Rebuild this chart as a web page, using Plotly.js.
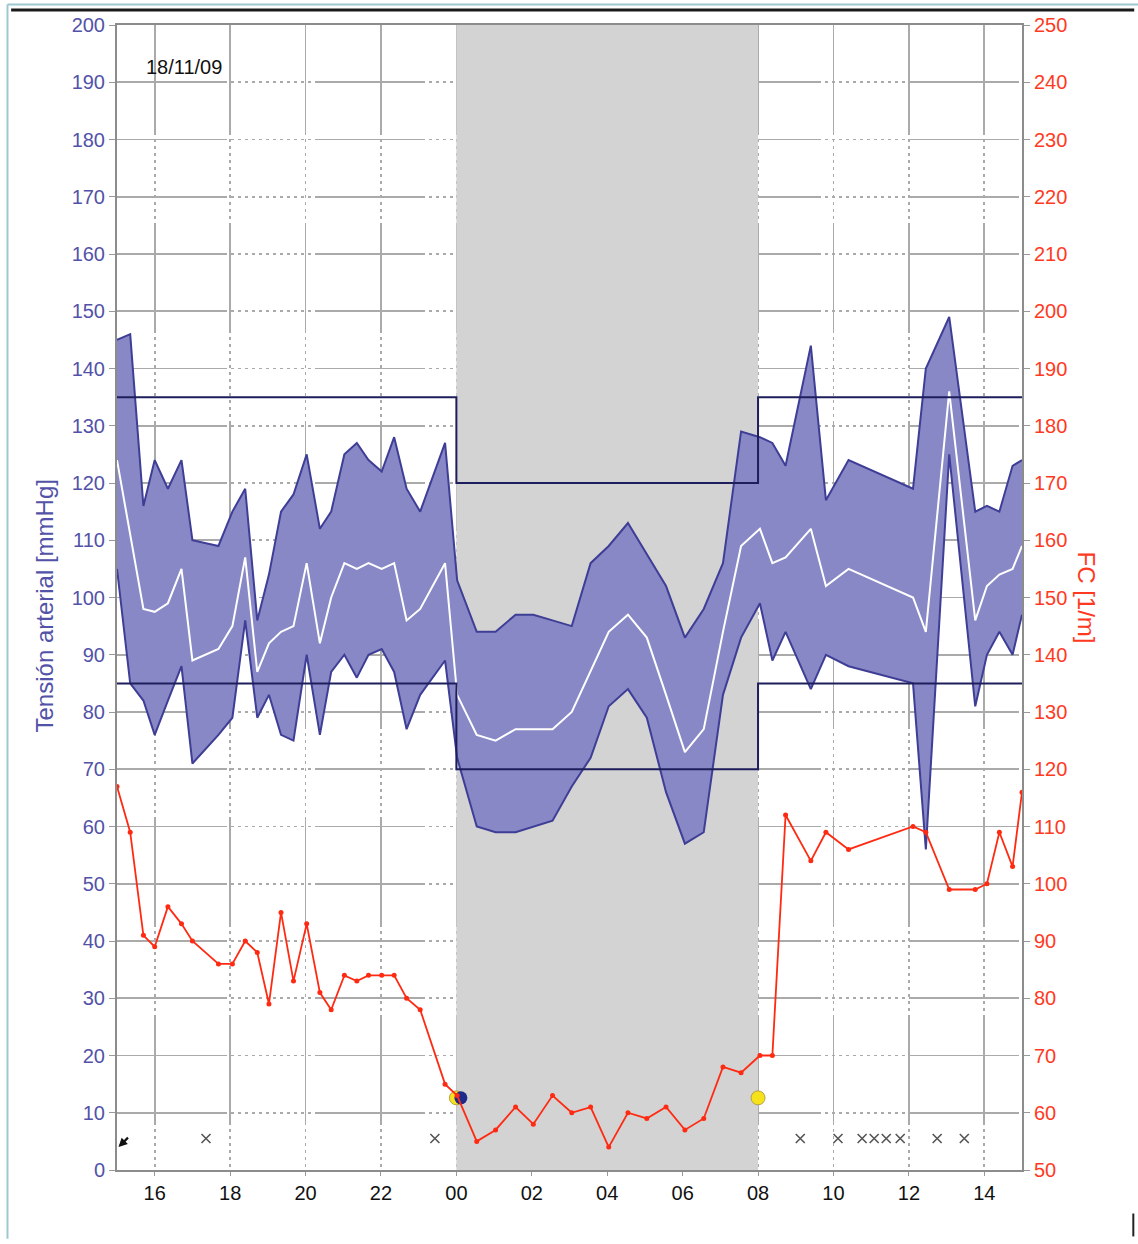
<!DOCTYPE html>
<html>
<head>
<meta charset="utf-8">
<script src="https://cdn.plot.ly/plotly-3.0.1.min.js"></script>
<style>
  body { margin: 0; background: #fff; }
  #myDiv { width: 1138px; height: 1244px; }
</style>
</head>
<body>
<div id="myDiv"></div>
<script>
// measurement times, hours from 15:00 of day 1 (24 = midnight, 39 = 15:00 next day)
var times = [15.0, 15.35, 15.70, 16.0, 16.35, 16.71, 17.0, 17.69, 18.06, 18.40,
  18.72, 19.03, 19.35, 19.68, 20.03, 20.38, 20.68, 21.03, 21.36, 21.67,
  22.02, 22.35, 22.68, 23.04, 23.70, 24.02, 24.54, 25.04, 25.57, 26.04,
  26.55, 27.06, 27.56, 28.04, 28.55, 29.05, 29.56, 30.06, 30.56, 31.07,
  31.55, 32.05, 32.38, 32.73, 33.40, 33.80, 34.40, 36.11, 36.45, 37.07,
  37.76, 38.07, 38.40, 38.75, 39.0];

var systolic = [145, 146, 116, 124, 119, 124, 110, 109, 115, 119,
  96, 104, 115, 118, 125, 112, 115, 125, 127, 124,
  122, 128, 119, 115, 127, 103, 94, 94, 97, 97,
  96, 95, 106, 109, 113, 107.5, 102, 93, 98, 106,
  129, 128, 127, 123, 144, 117, 124, 119, 140, 149,
  115, 116, 115, 123, 124];

var meanBP = [124, 111, 98, 97.5, 99, 105, 89, 91, 95, 107,
  87, 92, 94, 95, 106, 92, 100, 106, 105, 106,
  105, 106, 96, 98, 106, 83, 76, 75, 77, 77,
  77, 80, 87, 94, 97, 93, 83, 73, 77, 94,
  109, 112, 106, 107, 112, 102, 105, 100, 94, 136,
  96, 102, 104, 105, 109];

var diastolic = [105, 85, 82, 76, 82, 88, 71, 76, 79, 96,
  79, 83, 76, 75, 90, 76, 87, 90, 86, 90,
  91, 87, 77, 83, 89, 72, 60, 59, 59, 60,
  61, 67, 72, 81, 84, 79, 66, 57, 59, 83,
  93, 99, 89, 94, 84, 90, 88, 85, 56, 125,
  81, 90, 94, 90, 97];

var heartRate = [117, 109, 91, 89, 96, 93, 90, 86, 86, 90,
  88, 79, 95, 83, 93, 81, 78, 84, 83, 84,
  84, 84, 80, 78, 65, 63, 55, 57, 61, 58,
  63, 60, 61, 54, 60, 59, 61, 57, 59, 68,
  67, 70, 70, 112, 104, 109, 106, 110, 109, 99,
  99, 100, 109, 103, 116];

// night period (00 to 08)
var nightStart = 24;
var nightEnd = 32;

// day / night limits
var limitTimes = [15, 24, 32, 39];
var upperLimit = [135, 120, 135, 135];
var lowerLimit = [85, 70, 85, 85];

// event marks along the bottom
var eventTimes = [17.36, 23.43, 33.12, 34.12, 34.76, 35.08, 35.40, 35.77, 36.75, 37.47];
var eventLevel = [5.5, 5.5, 5.5, 5.5, 5.5, 5.5, 5.5, 5.5, 5.5, 5.5];

// night start / end buttons
var nightMarkTimes = [24, 32];
var nightMarkLevel = [12.6, 12.6];

var tickVals = [16, 18, 20, 22, 24, 26, 28, 30, 32, 34, 36, 38];
var tickText = ['16', '18', '20', '22', '00', '02', '04', '06', '08', '10', '12', '14'];

var bandLine = '#3e3e96';
var bandFill = 'rgb(136,136,198)';

var data = [
  {x: [nightStart, nightStart, nightEnd, nightEnd], y: [0, 200, 200, 0],
    type: 'scatter', mode: 'lines', fill: 'toself', fillcolor: '#d3d3d3',
    line: {width: 0, color: '#d3d3d3'}, hoverinfo: 'skip'},
  {x: times, y: diastolic, type: 'scatter', mode: 'lines',
    line: {color: bandLine, width: 2}, hoverinfo: 'skip'},
  {x: times, y: systolic, type: 'scatter', mode: 'lines', fill: 'tonexty',
    fillcolor: bandFill, line: {color: bandLine, width: 2}, hoverinfo: 'skip'},
  {x: times, y: meanBP, type: 'scatter', mode: 'lines',
    line: {color: '#ffffff', width: 2}},
  {x: limitTimes, y: upperLimit, type: 'scatter', mode: 'lines',
    line: {color: '#1e1e5c', width: 2, shape: 'hv'}},
  {x: limitTimes, y: lowerLimit, type: 'scatter', mode: 'lines',
    line: {color: '#1e1e5c', width: 2, shape: 'hv'}},
  {x: times, y: heartRate, type: 'scatter', mode: 'lines+markers', yaxis: 'y2',
    line: {color: '#ff2a12', width: 1.8}, marker: {color: '#ff2a12', size: 5}},
  {x: eventTimes, y: eventLevel, type: 'scatter', mode: 'markers',
    marker: {symbol: 'x-thin', size: 9, line: {color: '#555555', width: 1.6}}},
  {x: nightMarkTimes, y: nightMarkLevel, type: 'scatter', mode: 'markers',
    marker: {color: '#f5e21a', size: 14, line: {color: '#b8a040', width: 1}}},
  {x: [nightMarkTimes[0] + 0.12], y: [nightMarkLevel[0]], type: 'scatter', mode: 'markers',
    marker: {color: '#1c2a8a', size: 13}}
];

// solid stretch followed by a dotted stretch, like the original grid
var dots = [];
for (var i = 0; i < 12; i++) { dots.push('3px', '4px'); }
var gridPattern = '110px,4px,' + dots.join(',');

var layout = {
  width: 1138,
  height: 1244,
  margin: {l: 117, r: 116, t: 25, b: 74},
  paper_bgcolor: '#ffffff',
  plot_bgcolor: '#ffffff',
  showlegend: false,
  font: {family: 'Liberation Sans, Arial, sans-serif'},
  xaxis: {
    range: [15, 39],
    tickvals: tickVals,
    ticktext: tickText,
    tickfont: {size: 20, color: '#111111'},
    ticks: 'outside', ticklen: 4, tickcolor: '#999999',
    showgrid: true, gridcolor: '#aaaaaa', gridwidth: 1.6, griddash: gridPattern,
    showline: true, linecolor: '#8c8c8c', linewidth: 2, mirror: true,
    zeroline: false
  },
  yaxis: {
    range: [0, 200],
    dtick: 10,
    tickfont: {size: 20, color: '#5252a8'},
    ticks: 'outside', ticklen: 6, tickcolor: '#999999',
    showgrid: true, gridcolor: '#aaaaaa', gridwidth: 1.6, griddash: gridPattern,
    showline: true, linecolor: '#8c8c8c', linewidth: 2,
    zeroline: false
  },
  yaxis2: {
    range: [50, 250],
    dtick: 10,
    overlaying: 'y',
    side: 'right',
    tickfont: {size: 20, color: '#ff3a1e'},
    ticks: 'outside', ticklen: 6, tickcolor: '#999999',
    showgrid: false,
    showline: true, linecolor: '#8c8c8c', linewidth: 2,
    zeroline: false
  },
  shapes: [
    {type: 'line', xref: 'paper', yref: 'paper', x0: -0.117, x1: 1.124,
      y0: 1.0131, y1: 1.0131, line: {color: '#1a1a1a', width: 3}},
    {type: 'line', xref: 'paper', yref: 'paper', x0: -0.121, x1: 1.13,
      y0: 1.018, y1: 1.018, line: {color: '#9cc8d0', width: 2}},
    {type: 'line', xref: 'paper', yref: 'paper', x0: -0.121, x1: -0.121,
      y0: -0.06, y1: 1.018, line: {color: '#9cc8d0', width: 2}},
    {type: 'line', xref: 'paper', yref: 'paper', x0: 1.123, x1: 1.123,
      y0: -0.058, y1: -0.038, line: {color: '#222222', width: 2}}
  ],
  annotations: [
    {text: 'Tensión arterial [mmHg]', xref: 'paper', yref: 'paper',
      x: -0.0796, y: 0.493, xanchor: 'center', yanchor: 'middle', textangle: -90,
      showarrow: false, font: {size: 24, color: '#5252a8'}},
    {text: 'FC [1/m]', xref: 'paper', yref: 'paper',
      x: 1.0718, y: 0.50, xanchor: 'center', yanchor: 'middle', textangle: 90,
      showarrow: false, font: {size: 24, color: '#ff3a1e'}},
    {text: '18/11/09', xref: 'paper', yref: 'paper',
      x: 0.0293, y: 0.963, xanchor: 'left', yanchor: 'middle',
      showarrow: false, font: {size: 20, color: '#111111'}},
    {text: '', xref: 'x', yref: 'y', x: 15.04, y: 4.0, ax: 11, ay: -11,
      showarrow: true, arrowhead: 2, arrowsize: 0.8, arrowwidth: 2.2, arrowcolor: '#111111'}
  ]
};

Plotly.newPlot('myDiv', data, layout, {displayModeBar: false, staticPlot: true});
</script>
</body>
</html>
